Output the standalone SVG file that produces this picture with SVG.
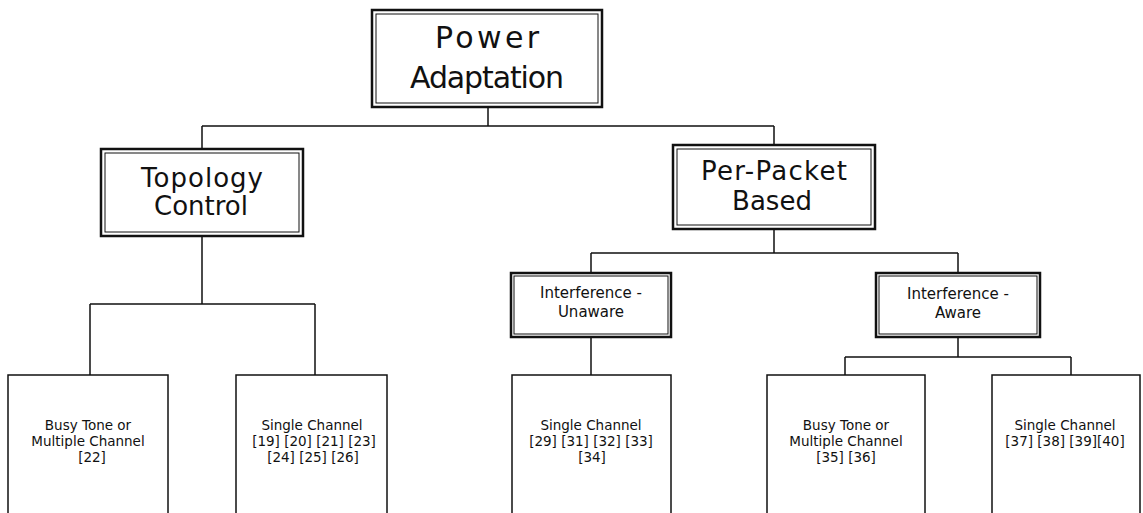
<svg xmlns="http://www.w3.org/2000/svg" width="1143" height="513" viewBox="0 0 1143 513">
  <style>
    .outer { fill: #fff; stroke: #111; stroke-width: 2.5; }
    .inner { fill: none; stroke: #111; stroke-width: 1; }
    .leaf { fill: #fff; stroke: #111; stroke-width: 1.5; }
    .wire { fill: none; stroke: #111; stroke-width: 1.5; }
    text { font-family: "DejaVu Sans", "Liberation Sans", sans-serif; fill: #111; text-anchor: middle; }
    .t1 { font-size: 30px; }
    .t2 { font-size: 26px; }
    .t3 { font-size: 15px; }
    .t4 { font-size: 13.5px; }
  </style>

  <!-- tree connectors -->
  <g id="connectors" class="wire">
    <path d="M488 107 V126 M202 126 H774 M202 126 V149 M774 126 V145"/>
    <path d="M202 236 V304 M90 304 H315 M90 304 V375 M315 304 V375"/>
    <path d="M774 229 V253 M591 253 H958 M591 253 V273 M958 253 V273"/>
    <path d="M591 337 V375"/>
    <path d="M958 337 V357 M845 357 H1071 M845 357 V375 M1071 357 V375"/>
  </g>

  <!-- root -->
  <g id="power-adaptation">
    <rect class="outer" x="372" y="10" width="230" height="97"/>
    <rect class="inner" x="376" y="14" width="222" height="89"/>
    <text class="t1" x="487" y="48" textLength="104" lengthAdjust="spacing">Power</text>
    <text class="t1" x="487" y="88" textLength="154" lengthAdjust="spacing">Adaptation</text>
  </g>

  <!-- second level -->
  <g id="topology-control">
    <rect class="outer" x="101" y="149" width="202" height="87"/>
    <rect class="inner" x="105" y="153" width="194" height="79"/>
    <text class="t2" x="202" y="187" textLength="122" lengthAdjust="spacing">Topology</text>
    <text class="t2" x="201" y="215" textLength="94" lengthAdjust="spacing">Control</text>
  </g>

  <g id="per-packet">
    <rect class="outer" x="673" y="145" width="202" height="84"/>
    <rect class="inner" x="677" y="149" width="194" height="76"/>
    <text class="t2" x="774" y="180" textLength="146" lengthAdjust="spacing">Per-Packet</text>
    <text class="t2" x="772" y="210">Based</text>
  </g>

  <!-- third level -->
  <g id="interference-unaware">
    <rect class="outer" x="511" y="273" width="160" height="64"/>
    <rect class="inner" x="514" y="276" width="154" height="58"/>
    <text class="t3" x="591" y="298">Interference -</text>
    <text class="t3" x="591" y="317">Unaware</text>
  </g>

  <g id="interference-aware">
    <rect class="outer" x="876" y="273" width="164" height="64"/>
    <rect class="inner" x="879" y="276" width="158" height="58"/>
    <text class="t3" x="958" y="299">Interference -</text>
    <text class="t3" x="958" y="318">Aware</text>
  </g>

  <!-- leaves (open at the bottom edge) -->
  <g id="tc-busy-tone">
    <rect class="leaf" x="8" y="375" width="160" height="150"/>
    <text class="t4" x="88" y="430">Busy Tone or</text>
    <text class="t4" x="88" y="446">Multiple Channel</text>
    <text class="t4" x="92" y="462">[22]</text>
  </g>

  <g id="tc-single-channel">
    <rect class="leaf" x="236" y="375" width="151" height="150"/>
    <text class="t4" x="312" y="430">Single Channel</text>
    <text class="t4" x="314" y="446">[19] [20] [21] [23]</text>
    <text class="t4" x="313" y="462">[24] [25] [26]</text>
  </g>

  <g id="ui-single-channel">
    <rect class="leaf" x="512" y="375" width="159" height="150"/>
    <text class="t4" x="591" y="430">Single Channel</text>
    <text class="t4" x="591" y="446">[29] [31] [32] [33]</text>
    <text class="t4" x="592" y="462">[34]</text>
  </g>

  <g id="ia-busy-tone">
    <rect class="leaf" x="767" y="375" width="158" height="150"/>
    <text class="t4" x="846" y="430">Busy Tone or</text>
    <text class="t4" x="846" y="446">Multiple Channel</text>
    <text class="t4" x="846" y="462">[35] [36]</text>
  </g>

  <g id="ia-single-channel">
    <rect class="leaf" x="992" y="375" width="148" height="150"/>
    <text class="t4" x="1065" y="430">Single Channel</text>
    <text class="t4" x="1065" y="446">[37] [38] [39][40]</text>
  </g>
</svg>
